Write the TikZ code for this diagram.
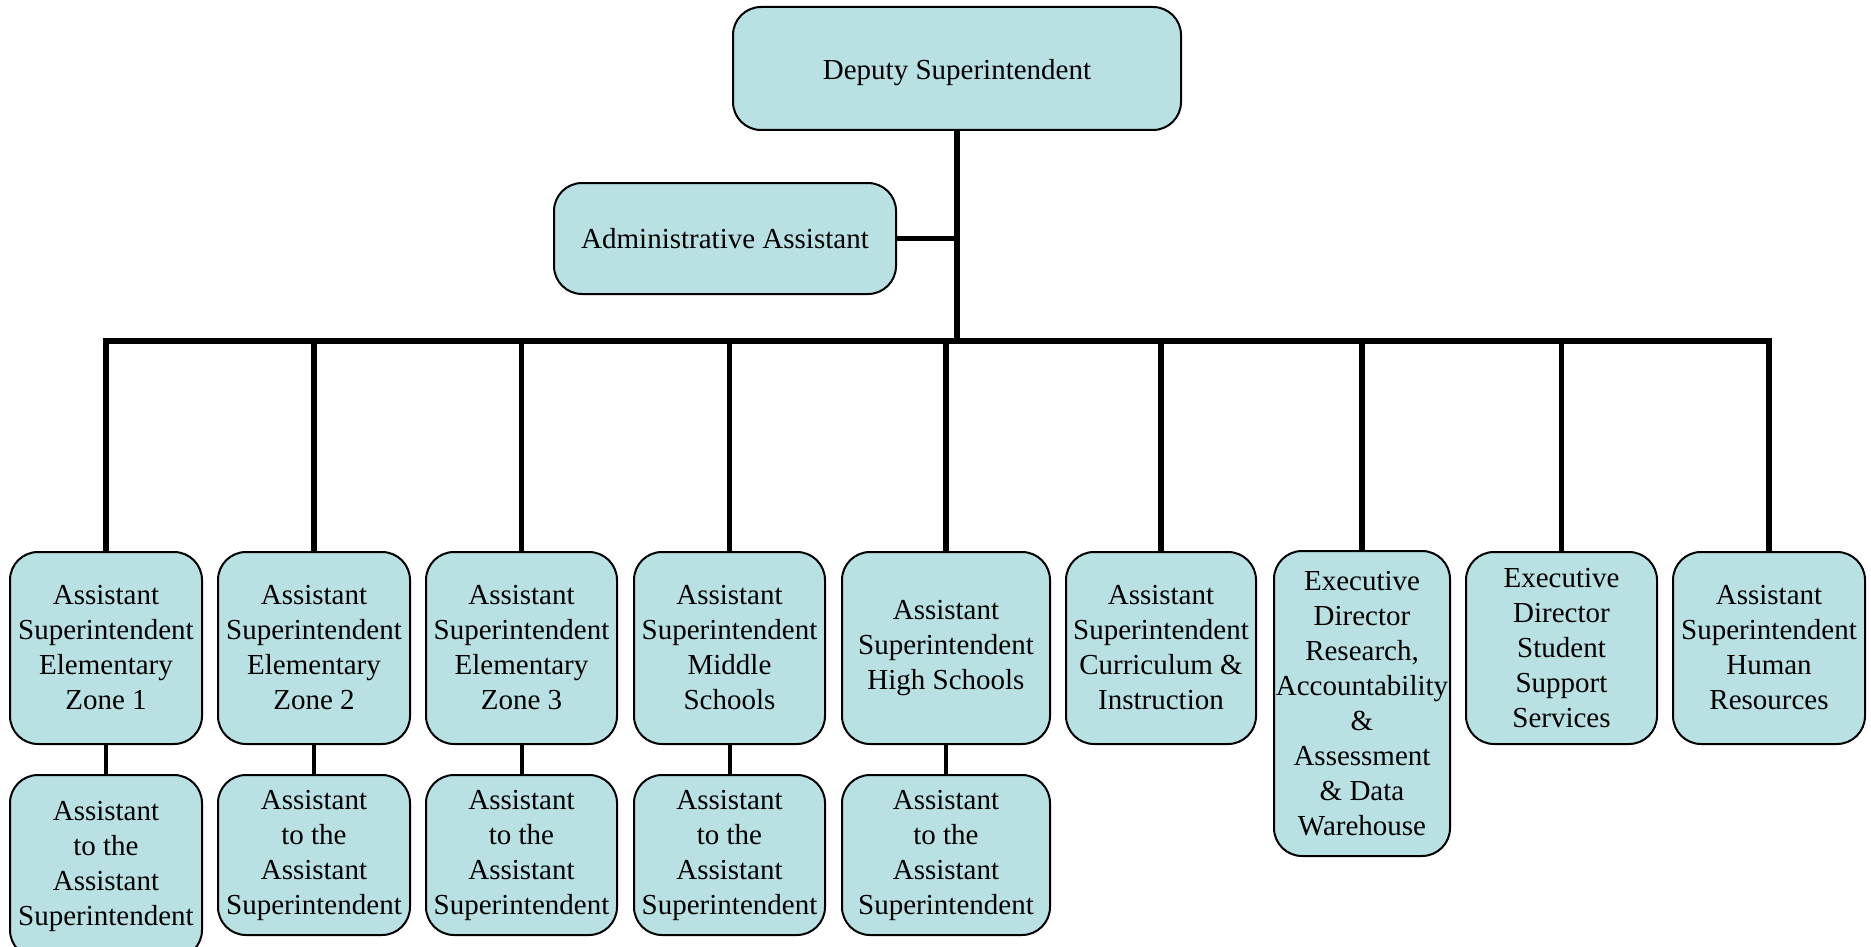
\documentclass[tikz,border=0pt]{standalone}
\usepackage{fontspec}
\setmainfont{Liberation Serif}
\definecolor{boxfill}{RGB}{185,224,227}
\begin{document}
\begin{tikzpicture}[x=1pt,y=-1pt,
  box/.style={draw=black, line width=2pt, fill=boxfill, rounded corners=28pt,
    inner sep=1pt, align=center, text=black, font=\fontsize{29}{35}\selectfont},
  rowbox/.style={box, minimum height=192pt},
  subbox/.style={box, minimum height=160pt, minimum width=192pt},
  link/.style={line width=5.5pt, line join=miter},
  sublink/.style={line width=4pt}]
\useasboundingbox (0,0) rectangle (1871,947);

% top level
\node[box, minimum width=448pt, minimum height=123pt, text height=29pt] (dep) at (957,68.5) {Deputy Superintendent};
\node[box, minimum width=342pt, minimum height=111pt] (adm) at (725,238.5) {Administrative Assistant};

% department heads
\node[rowbox, minimum width=192pt] (a1) at (106,648) {Assistant\\Superintendent\\Elementary\\Zone 1};
\node[rowbox, minimum width=192pt] (a2) at (314,648) {Assistant\\Superintendent\\Elementary\\Zone 2};
\node[rowbox, minimum width=191pt] (a3) at (521.5,648) {Assistant\\Superintendent\\Elementary\\Zone 3};
\node[rowbox, minimum width=191pt] (a4) at (729.5,648) {Assistant\\Superintendent\\Middle\\Schools};
\node[rowbox, minimum width=208pt] (a5) at (946,648) {Assistant\\Superintendent\\High Schools};
\node[rowbox, minimum width=190pt] (a6) at (1161,648) {Assistant\\Superintendent\\Curriculum \&\\Instruction};
\node[box, minimum width=176pt, minimum height=305pt] (a7) at (1362,703.5) {Executive\\Director\\Research,\\Accountability\\\&\\Assessment\\\& Data\\Warehouse};
\node[rowbox, minimum width=191pt] (a8) at (1561.5,648) {Executive\\Director\\Student\\Support\\Services};
\node[rowbox, minimum width=192pt] (a9) at (1769,648) {Assistant\\Superintendent\\Human\\Resources};

% assistants to the assistant superintendents
\node[box, minimum width=192pt, minimum height=183pt] (b1) at (106,866.5) {Assistant\\to the\\Assistant\\Superintendent};
\node[subbox] (b2) at (314,855) {Assistant\\to the\\Assistant\\Superintendent};
\node[subbox, minimum width=191pt] (b3) at (521.5,855) {Assistant\\to the\\Assistant\\Superintendent};
\node[subbox, minimum width=191pt] (b4) at (729.5,855) {Assistant\\to the\\Assistant\\Superintendent};
\node[subbox, minimum width=208pt] (b5) at (946,855) {Assistant\\to the\\Assistant\\Superintendent};

% connectors
\coordinate (bus) at (957,341);
\draw[link] (dep.south) -- (bus);
\draw[link] (adm.east) -- (adm.east -| dep.south);
\draw[link] (a1.north) -- (a1.north |- bus) -- (a9.north |- bus) -- (a9.north);
\foreach \n in {a2,a3,a4,a5,a6,a7,a8}
  \draw[link] (\n.north) -- (\n.north |- bus);
\foreach \i in {1,...,5}
  \draw[sublink] (a\i.south) -- (b\i.north);
\end{tikzpicture}
\end{document}
